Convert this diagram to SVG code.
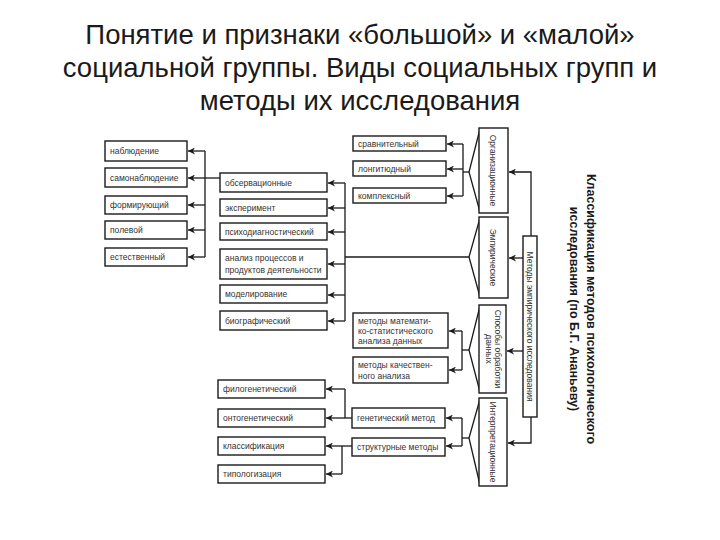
<svg xmlns="http://www.w3.org/2000/svg" width="720" height="540" viewBox="0 0 720 540">
<style>
.title{font-family:"Liberation Sans",Arial,sans-serif;font-size:27.5px;fill:#1a1a1a;text-anchor:middle}
.box{fill:#fff;stroke:#1a1a1a;stroke-width:1.4}
.t{font-family:"Liberation Sans",Arial,sans-serif;font-size:8.5px;fill:#333}
.vt{font-family:"Liberation Sans",Arial,sans-serif;font-size:8.5px;fill:#333;text-anchor:middle}
.ht{font-family:"Liberation Sans",Arial,sans-serif;font-size:12.5px;font-weight:bold;fill:#1a1a1a;text-anchor:middle}
.c{fill:none;stroke:#1a1a1a;stroke-width:1.3}
.a{fill:none;stroke:#1a1a1a;stroke-width:1.3;marker-end:url(#ah)}
</style>
<defs>
<marker id="ah" viewBox="0 0 10 10" refX="10" refY="5" markerWidth="7" markerHeight="7" markerUnits="userSpaceOnUse" orient="auto">
<path d="M0,0 L10,5 L0,10 L3,5 z" fill="#1a1a1a"/>
</marker>
</defs>
<rect width="720" height="540" fill="#fff"/>
<g id="title">
<text class="title" x="360" y="44">Понятие и признаки «большой» и «малой»</text>
<text class="title" x="360" y="77">социальной группы. Виды социальных групп и</text>
<text class="title" x="360" y="110">методы их исследования</text>
</g>
<g id="heading">
<text class="ht" transform="translate(587,309) rotate(90)">Классификация методов психологического</text>
<text class="ht" transform="translate(570,309) rotate(90)">исследования (по Б.Г. Ананьеву)</text>
</g>
<g id="connectors">
<line class="c" x1="205" y1="151" x2="205" y2="257"/>
<line class="a" x1="205" y1="151" x2="188" y2="151"/>
<line class="a" x1="220" y1="178" x2="188" y2="178"/>
<line class="a" x1="205" y1="205" x2="188" y2="205"/>
<line class="a" x1="205" y1="230" x2="188" y2="230"/>
<line class="a" x1="205" y1="257" x2="188" y2="257"/>
<line class="c" x1="345" y1="183" x2="345" y2="321"/>
<line class="c" x1="345" y1="257" x2="469" y2="257"/>
<line class="a" x1="345" y1="183" x2="328" y2="183"/>
<line class="a" x1="345" y1="208" x2="328" y2="208"/>
<line class="a" x1="345" y1="232" x2="328" y2="232"/>
<line class="a" x1="345" y1="264" x2="328" y2="264"/>
<line class="a" x1="345" y1="295" x2="328" y2="295"/>
<line class="a" x1="345" y1="321" x2="328" y2="321"/>
<line class="c" x1="463" y1="144" x2="463" y2="196"/>
<line class="c" x1="463" y1="172" x2="469" y2="172"/>
<line class="a" x1="463" y1="144" x2="447" y2="144"/>
<line class="a" x1="463" y1="169" x2="447" y2="169"/>
<line class="a" x1="463" y1="196" x2="447" y2="196"/>
<line class="c" x1="462" y1="331" x2="462" y2="370"/>
<line class="c" x1="462" y1="350" x2="469" y2="350"/>
<line class="a" x1="462" y1="331" x2="449" y2="331"/>
<line class="a" x1="462" y1="370" x2="449" y2="370"/>
<line class="c" x1="462" y1="418" x2="462" y2="446"/>
<line class="c" x1="462" y1="438" x2="469" y2="438"/>
<line class="a" x1="462" y1="418" x2="446" y2="418"/>
<line class="a" x1="462" y1="446" x2="446" y2="446"/>
<line class="c" x1="345" y1="389" x2="345" y2="418"/>
<line class="a" x1="345" y1="389" x2="326" y2="389"/>
<line class="a" x1="352" y1="418" x2="326" y2="418"/>
<line class="c" x1="342" y1="446" x2="342" y2="474"/>
<line class="a" x1="352" y1="446" x2="326" y2="446"/>
<line class="a" x1="342" y1="474" x2="326" y2="474"/>
<polyline class="c" points="480,129 469,172 480,212"/>
<polyline class="c" points="480,218 469,257 480,297"/>
<polyline class="c" points="480,306 469,350 480,392"/>
<polyline class="c" points="480,399 469,438 480,485"/>
<polyline class="a" points="531,236 531,172 509,172"/>
<line class="a" x1="523" y1="258" x2="509" y2="258"/>
<line class="a" x1="523" y1="351" x2="507" y2="351"/>
<polyline class="a" points="531,417 531,443 508,443"/>
</g>
<g id="n-nabl"><rect class="box" x="105" y="141" width="82" height="20"/><text class="t" x="110" y="154">наблюдение</text></g>
<g id="n-samonabl"><rect class="box" x="105" y="168" width="82" height="19"/><text class="t" x="110" y="181">самонаблюдение</text></g>
<g id="n-form"><rect class="box" x="105" y="196" width="82" height="18"/><text class="t" x="110" y="208">формирующий</text></g>
<g id="n-pol"><rect class="box" x="105" y="221" width="82" height="18"/><text class="t" x="110" y="233">полевой</text></g>
<g id="n-est"><rect class="box" x="105" y="248" width="82" height="18"/><text class="t" x="110" y="260">естественный</text></g>
<g id="n-obs"><rect class="box" x="220" y="173" width="107" height="19"/><text class="t" x="225" y="186">обсервационные</text></g>
<g id="n-exp"><rect class="box" x="220" y="199" width="107" height="17"/><text class="t" x="225" y="211">эксперимент</text></g>
<g id="n-psy"><rect class="box" x="220" y="223" width="107" height="17"/><text class="t" x="225" y="235">психодиагностический</text></g>
<g id="n-anal"><rect class="box" x="220" y="249" width="107" height="30"/><text class="t" x="225" y="261">анализ процессов и</text><text class="t" x="225" y="273">продуктов деятельности</text></g>
<g id="n-model"><rect class="box" x="220" y="285" width="107" height="18"/><text class="t" x="225" y="297">моделирование</text></g>
<g id="n-bio"><rect class="box" x="220" y="311" width="107" height="19"/><text class="t" x="225" y="324">биографический</text></g>
<g id="n-srav"><rect class="box" x="353" y="136" width="93" height="15"/><text class="t" x="358" y="147">сравнительный</text></g>
<g id="n-long"><rect class="box" x="353" y="161" width="93" height="15"/><text class="t" x="358" y="172">лонгитюдный</text></g>
<g id="n-kompl"><rect class="box" x="353" y="188" width="93" height="15"/><text class="t" x="358" y="199">комплексный</text></g>
<g id="n-mat"><rect class="box" x="353" y="313" width="95" height="35"/><text class="t" x="358" y="324">методы математи-</text><text class="t" x="358" y="334">ко-статистического</text><text class="t" x="358" y="344">анализа данных</text></g>
<g id="n-kach"><rect class="box" x="353" y="357" width="95" height="26"/><text class="t" x="358" y="368">методы качествен-</text><text class="t" x="358" y="379">ного анализа</text></g>
<g id="n-gen"><rect class="box" x="352" y="408" width="93" height="20"/><text class="t" x="357" y="421">генетический метод</text></g>
<g id="n-str"><rect class="box" x="352" y="438" width="93" height="18"/><text class="t" x="357" y="450">структурные методы</text></g>
<g id="n-filo"><rect class="box" x="218" y="380" width="107" height="18"/><text class="t" x="223" y="392">филогенетический</text></g>
<g id="n-onto"><rect class="box" x="218" y="409" width="107" height="18"/><text class="t" x="223" y="421">онтогенетический</text></g>
<g id="n-klass"><rect class="box" x="218" y="437" width="107" height="18"/><text class="t" x="223" y="449">классификация</text></g>
<g id="n-tipo"><rect class="box" x="218" y="465" width="107" height="18"/><text class="t" x="223" y="477">типологизация</text></g>
<g id="n-org"><rect class="box" x="479" y="128" width="29" height="85"/><text class="vt" transform="translate(490,170.5) rotate(90)">Организационные</text></g>
<g id="n-emp"><rect class="box" x="479" y="217" width="29" height="81"/><text class="vt" transform="translate(490,257.5) rotate(90)">Эмпирические</text></g>
<g id="n-sposob"><rect class="box" x="479" y="305" width="27" height="88"/><text class="vt" transform="translate(495,349) rotate(90)">Способы обработки</text><text class="vt" transform="translate(486,349) rotate(90)">данных</text></g>
<g id="n-interp"><rect class="box" x="479" y="398" width="28" height="88"/><text class="vt" transform="translate(490,442) rotate(90)">Интерпретационные</text></g>
<g id="n-metody"><rect class="box" x="523" y="236" width="14" height="181"/><text class="vt" transform="translate(527,326.5) rotate(90)">Методы эмпирического исследования</text></g>
</svg>
